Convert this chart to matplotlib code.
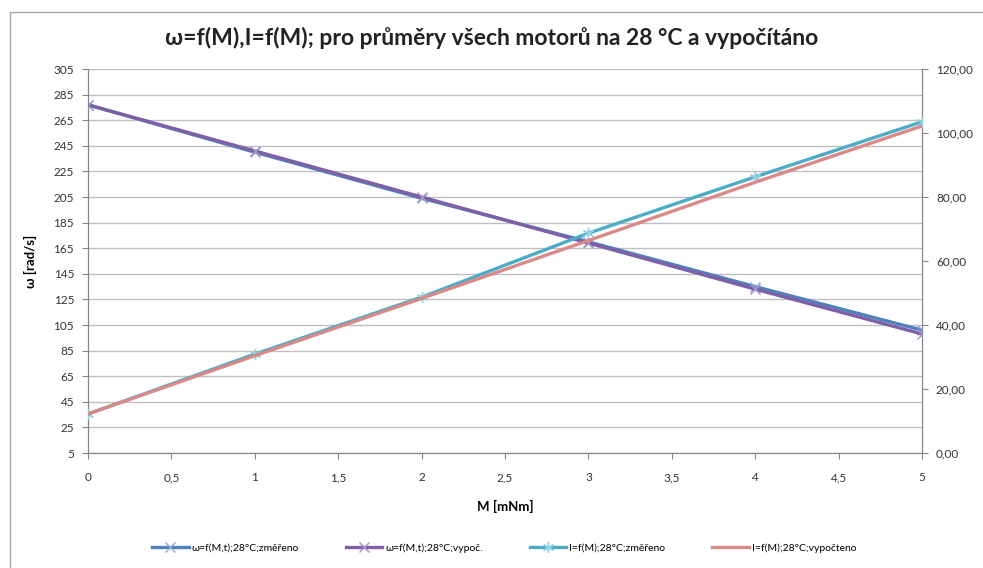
import matplotlib
matplotlib.use("Agg")
import matplotlib.pyplot as plt
from matplotlib.patches import Rectangle
from matplotlib.ticker import FuncFormatter

plt.rcParams["font.family"] = ["Lato", "DejaVu Sans"]

# data
M = [0, 1, 2, 3, 4, 5]
omega_meas = [277, 240, 204, 170, 135, 101]
omega_calc = [277, 241, 205, 169, 133, 98]
I_meas = [12.2, 30.9, 48.7, 68.7, 86.3, 103.5]
I_calc = [12.2, 30.4, 48.3, 66.4, 84.6, 102.2]

labels = ["ω=f(M,t);28°C;změřeno", "ω=f(M,t);28°C;vypoč.",
          "I=f(M);28°C;změřeno", "I=f(M);28°C;vypočteno"]
title = "ω=f(M),I=f(M); pro průměry všech motorů na 28 °C a vypočítáno"

GRID = "#bfbfbf"
AXC = "#868686"

fig = plt.figure(figsize=(9.83, 5.68), dpi=100)
ax = fig.add_axes([88 / 983, 1 - 453 / 568, (922 - 88) / 983, (453 - 69) / 568])
ax2 = ax.twinx()

# chart frame (right and bottom edges fall outside the picture)
fig.patches.append(Rectangle((10 / 983, -0.05), 1.2, 1 - 12 / 568 + 0.05,
                             transform=fig.transFigure, fill=False,
                             edgecolor="#a6a6a6", lw=1))

l1, = ax.plot(M, omega_meas, color="#4f81bd", lw=2.4, marker="x", ms=7,
              mec="#8fa8d8", mew=1.0, zorder=3)
l2, = ax.plot(M, omega_calc, color="#7f5fa5", lw=2.4, marker="x", ms=7,
              mec="#a592c8", mew=1.0, zorder=4)
l3, = ax2.plot(M, I_meas, color="#4bacc6", lw=2.4, marker=(6, 2, 0), ms=8,
               mec="#93d0e0", mew=1.0, zorder=3)
l4, = ax2.plot(M, I_calc, color="#d98a88", lw=2.4, zorder=4)

ax.set_xlim(0, 5)
ax.set_ylim(5, 305)
ax.set_yticks(range(5, 306, 20))
ax.set_xticks([i * 0.5 for i in range(11)])
ax.xaxis.set_major_formatter(FuncFormatter(lambda v, p: f"{v:g}".replace(".", ",")))
ax2.set_ylim(0, 120)
ax2.set_yticks(range(0, 121, 20))
ax2.yaxis.set_major_formatter(FuncFormatter(lambda v, p: f"{v:.2f}".replace(".", ",")))

ax.grid(axis="y", color=GRID, lw=1)
ax.set_axisbelow(True)
for a in (ax, ax2):
    a.spines["top"].set_visible(False)
    for s in ("left", "right", "bottom"):
        a.spines[s].set_color(AXC)
    a.tick_params(colors=AXC, labelcolor="#333333", labelsize=8.5, length=4)
ax.tick_params(axis="x", pad=10)
ax.tick_params(axis="y", pad=6)
ax2.tick_params(axis="y", pad=6)

ax.set_xlabel("M [mNm]", fontsize=9.5, fontweight="bold", labelpad=12)
ax.set_ylabel("ω [rad/s]", fontsize=9.5, fontweight="bold", labelpad=12)

fig.text(0.5, 1 - 38 / 568, title, ha="center", va="center",
         fontsize=16.5, fontweight="bold", color="#222222")

fig.legend([l1, l2, l3, l4], labels, loc="center", ncol=4,
           bbox_to_anchor=(0.513, 1 - 548 / 568), frameon=False,
           fontsize=7.5, handlelength=3.5, columnspacing=4.5, handletextpad=0.3)

fig.savefig("out.png", dpi=100)
